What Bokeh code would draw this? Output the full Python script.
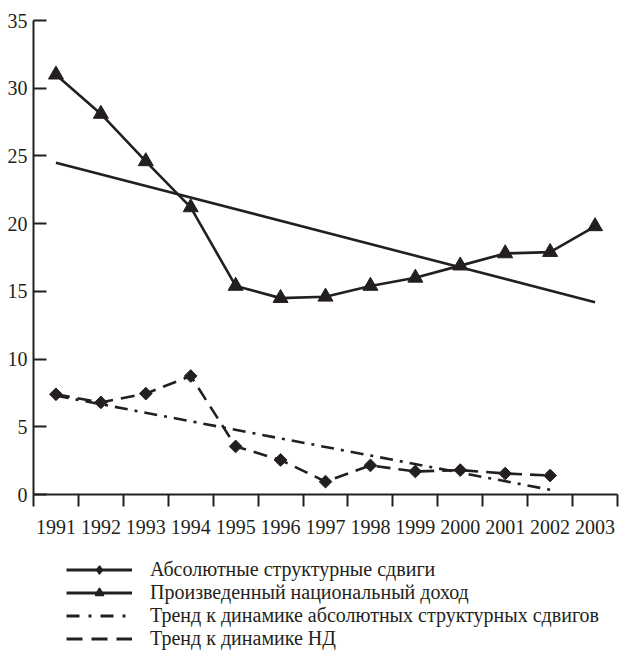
import math
from bokeh.plotting import figure
from bokeh.layouts import column
from bokeh.models import Range1d, FixedTicker, Legend, LegendItem, ColumnDataSource
from bokeh.embed import file_html
from bokeh.resources import INLINE

# ---- data ----
years = [1991, 1992, 1993, 1994, 1995, 1996, 1997, 1998, 1999, 2000, 2001, 2002, 2003]
nd_income = [31.0, 28.1, 24.6, 21.2, 15.4, 14.5, 14.6, 15.4, 16.0, 16.9, 17.8, 17.9, 19.8]

abs_years = [1991, 1992, 1993, 1994, 1995, 1996, 1997, 1998, 1999, 2000, 2001, 2002]
abs_shifts = [7.4, 6.8, 7.45, 8.75, 3.55, 2.55, 0.95, 2.15, 1.7, 1.8, 1.55, 1.4]

trend_nd_years = [1991, 2003]
trend_nd = [24.5, 14.2]

trend_abs_years = [1991, 2002]
trend_abs = [7.3, 0.35]

y_ticks = [0, 5, 10, 15, 20, 25, 30, 35]

legend_labels = [
    "Абсолютные структурные сдвиги",
    "Произведенный национальный доход",
    "Тренд к динамике абсолютных структурных сдвигов",
    "Тренд к динамике НД",
]

INK = "#231f20"
FONT = "Liberation Serif"
W = 619

p = figure(
    width=W, height=536,
    x_range=Range1d(years[0] - 0.5, years[-1] + 0.5),
    y_range=Range1d(0, 35),
    output_backend="svg", toolbar_location=None,
    min_border_left=33, min_border_right=2, min_border_top=20, min_border_bottom=38,
)
p.outline_line_color = None
p.xgrid.visible = False
p.ygrid.visible = False
p.background_fill_color = "white"
p.border_fill_color = "white"

# x axis: labels centred on each year, ticks on the boundaries between years
xa = p.xaxis[0]
xa.ticker = FixedTicker(ticks=years,
                        minor_ticks=[y - 0.5 for y in years] + [years[-1] + 0.5])
xa.major_label_overrides = {y: str(y) for y in years}
xa.major_tick_out = 0
xa.major_tick_in = 0
xa.minor_tick_out = 12
xa.minor_tick_in = 0
xa.minor_tick_line_width = 2
xa.minor_tick_line_color = INK
xa.axis_line_width = 2
xa.axis_line_color = INK
xa.major_label_standoff = 13
xa.major_label_text_font = FONT
xa.major_label_text_font_size = "20px"
xa.major_label_text_color = INK

# y axis
ya = p.yaxis[0]
ya.ticker = FixedTicker(ticks=y_ticks, minor_ticks=[])
ya.major_tick_in = 13
ya.major_tick_out = 0
ya.major_tick_line_width = 2
ya.major_tick_line_color = INK
ya.minor_tick_line_color = None
ya.axis_line_width = 2
ya.axis_line_color = INK
ya.major_label_standoff = 6
ya.major_label_text_font = FONT
ya.major_label_text_font_size = "20px"
ya.major_label_text_color = INK

# ---- data renderers ----
p.line(trend_nd_years, trend_nd, line_color=INK, line_width=2.6)
p.line(trend_abs_years, trend_abs, line_color=INK, line_width=2.6, line_dash="13 7 3 7")

p.line(years, nd_income, line_color=INK, line_width=2.6)
p.scatter(years, nd_income, marker="triangle", size=15, fill_color=INK, line_color=INK)

p.line(abs_years, abs_shifts, line_color=INK, line_width=2.6, line_dash="14 8")
p.scatter(abs_years, abs_shifts, marker="square", angle=math.pi / 4, size=9,
          fill_color=INK, line_color=INK)

# ---- legend figure (styled as in the original key) ----
lf = figure(
    width=W, height=114,
    x_range=Range1d(0, 1), y_range=Range1d(0, 1),
    output_backend="svg", toolbar_location=None,
    x_axis_location=None, y_axis_location=None,
    min_border=0,
)
lf.outline_line_color = None
lf.xgrid.visible = False
lf.ygrid.visible = False

def src():
    # a single undefined point: nothing is drawn, but the legend glyph is shown
    return ColumnDataSource(dict(x=[float("nan")], y=[float("nan")]))

l1 = lf.line("x", "y", source=src(), line_color=INK, line_width=3)
m1 = lf.scatter("x", "y", source=src(), marker="diamond",
                fill_color=INK, line_color=INK, line_width=1.5)
l2 = lf.line("x", "y", source=src(), line_color=INK, line_width=3)
m2 = lf.scatter("x", "y", source=src(), marker="triangle",
                fill_color=INK, line_color=INK, line_width=1.5)
l3 = lf.line("x", "y", source=src(), line_color=INK, line_width=3,
             line_dash="13 9 3 9")
l4 = lf.line("x", "y", source=src(), line_color=INK, line_width=3,
             line_dash="16 9")

legend = Legend(
    items=[
        LegendItem(label=legend_labels[0], renderers=[l1, m1]),
        LegendItem(label=legend_labels[1], renderers=[l2, m2]),
        LegendItem(label=legend_labels[2], renderers=[l3]),
        LegendItem(label=legend_labels[3], renderers=[l4]),
    ],
    location=(33, 0),
    orientation="vertical",
    margin=0, padding=0, spacing=0,
    glyph_width=66, glyph_height=21, label_height=21,
    label_standoff=18,
    label_text_font=FONT, label_text_font_size="20px", label_text_color=INK,
    border_line_color=None, background_fill_alpha=0,
)
lf.add_layout(legend, "center")

layout = column(p, lf, spacing=0)
open("out.html", "w").write(file_html(layout, INLINE))
